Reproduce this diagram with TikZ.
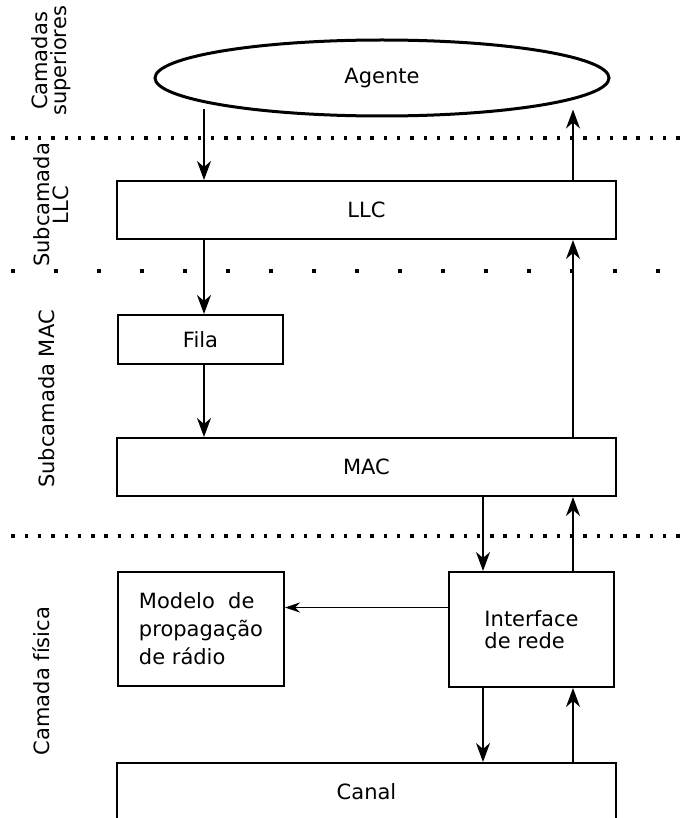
\documentclass[tikz,border=0pt]{standalone}
\usepackage{fontspec}
\setmainfont{DejaVu Sans}
\usetikzlibrary{arrows.meta,shapes.geometric}
\begin{document}
\begin{tikzpicture}[x=1pt,y=-1pt,
  box/.style={draw,line width=2pt,rectangle,inner sep=0pt,font=\fontsize{21}{25}\selectfont},
  arr/.style={line width=1.5pt,-{Stealth[length=19pt,width=14pt,inset=6pt]}},
  sarr/.style={line width=1.1pt,-{Stealth[length=15pt,width=10pt,inset=5pt]}},
  dense/.style={line width=3.4pt,dash pattern=on 3.4pt off 9.9pt},
  sparse/.style={line width=3.4pt,dash pattern=on 3.4pt off 39.6pt},
  lay/.style={rotate=90,align=center,inner sep=0pt,font=\fontsize{21}{19}\selectfont}]
\useasboundingbox (0,0) rectangle (685,818);
\clip (0,0) rectangle (685,818);

\coordinate (cA) at (204,0);
\coordinate (cB) at (483,0);
\coordinate (cC) at (573,0);

\node[ellipse,draw,line width=3pt,minimum width=454pt,minimum height=76pt,inner sep=0pt,font=\fontsize{21}{25}\selectfont] (agente) at (382,78) {Agente};
\node[box,minimum width=499pt,minimum height=58pt] (llc) at (366.5,210) {LLC};
\node[box,minimum width=165pt,minimum height=49pt] (fila) at (200.5,339.5) {Fila};
\node[box,minimum width=499pt,minimum height=58pt] (mac) at (366.5,467) {MAC};
\node[box,align=left,minimum width=166pt,minimum height=114pt,font=\fontsize{21}{28}\selectfont] (modelo) at (201,629) {Modelo\ \ de\\propagação\\de rádio};
\node[box,align=left,minimum width=165pt,minimum height=115pt,font=\fontsize{21}{22}\selectfont] (iface) at (531.5,629.5) {Interface\\de rede};
\node[box,minimum width=499pt,minimum height=58pt] (canal) at (366.5,792) {Canal};

\draw[dense] (11.3,138) -- (685,138);
\draw[sparse] (11.3,271) -- (685,271);
\draw[dense] (11.3,536) -- (685,536);

\draw[arr] ([yshift=8pt]agente.south -| cA) -- (llc.north -| cA);
\draw[arr] (llc.north -| cC) -- ([yshift=8pt]agente.south -| cC);
\draw[arr] (llc.south -| cA) -- (fila.north -| cA);
\draw[arr] (fila.south -| cA) -- (mac.north -| cA);
\draw[arr] (mac.north -| cC) -- (llc.south -| cC);
\draw[arr] (mac.south -| cB) -- (iface.north -| cB);
\draw[arr] (iface.north -| cC) -- (mac.south -| cC);
\draw[arr] (iface.south -| cB) -- (canal.north -| cB);
\draw[arr] (canal.north -| cC) -- (iface.south -| cC);
\draw[sarr] ([yshift=22pt]iface.west) -- ([yshift=22pt]iface.west -| modelo.east);

\node[lay] (l1) at (51,61) {Camadas\\superiores};
\node[lay] (l2) at (51,205) {Subcamada\\LLC};
\node[lay] (l3) at (47,399) {Subcamada MAC};
\node[lay] (l4) at (41,681) {Camada física};
\end{tikzpicture}
\end{document}
